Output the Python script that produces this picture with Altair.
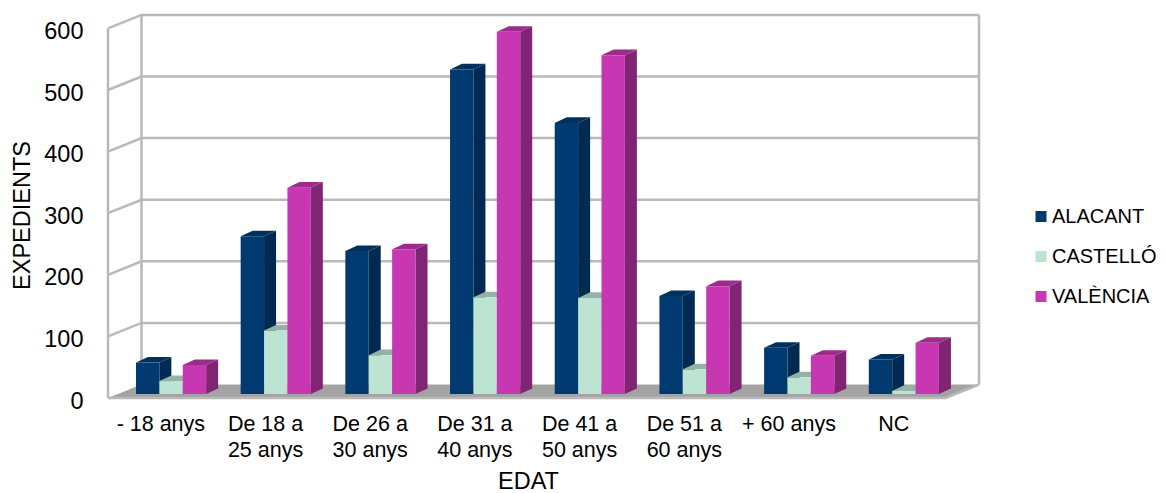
import json
import altair as alt
import pandas as pd

categories = ["- 18 anys", "De 18 a\n25 anys", "De 26 a\n30 anys", "De 31 a\n40 anys",
              "De 41 a\n50 anys", "De 51 a\n60 anys", "+ 60 anys", "NC"]
series = ["ALACANT", "CASTELLÓ", "VALÈNCIA"]
alacant = [51, 256, 232, 527, 440, 159, 75, 56]
castello = [21, 103, 63, 157, 156, 40, 27, 5]
valencia = [47, 335, 235, 588, 550, 175, 62, 83]
y_ticks = [0, 100, 200, 300, 400, 500, 600]
front_colors = ["#003a70", "#bde3d2", "#c837b2"]
side_colors = ["#002a52", "#8aa899", "#802474"]
top_colors = ["#00305e", "#93b3a6", "#9c2b8c"]

N = len(categories)
WALL_DX, WALL_DY = 0.32, 21.9     # depth of the 3D box, in x bands and y units
BAR_DX, BAR_DY = 0.1146, 9.1      # depth of a bar
BAR_W = 0.2234
BAR_START = 0.2673
BASE = 6.5
XMAX = N + WALL_DX
YMAX = 622.6

xs = alt.Scale(domain=[0, XMAX], nice=False, zero=False)
ys = alt.Scale(domain=[0, YMAX], nice=False, zero=False)
X = alt.X("x:Q", scale=xs)
Y = alt.Y("y:Q", scale=ys)


def para(x0, x1, v, dx, dy, key):
    return [
        dict(x=x0, y=v, y0=v, k=key),
        dict(x=x0 + dx, y=v + dy, y0=v, k=key),
        dict(x=x1, y=v + dy, y0=v, k=key),
        dict(x=x1 + dx, y=v + dy, y0=v + dy, k=key),
    ]


# floor
floor = alt.Chart(pd.DataFrame(para(0, N, 0, WALL_DX, WALL_DY, "f"))).mark_area(
    color="#a3a3a3", interpolate="linear"
).encode(
    x=alt.X("x:Q", scale=xs, axis=alt.Axis(
        values=[i + 0.5 for i in range(N)],
        labelExpr="split(" + json.dumps([c.replace("\n", "|") for c in categories], ensure_ascii=False)
                  + "[floor(datum.value)], '|')",
        title="EDAT", titleFontSize=23.5, titleFont="Liberation Sans", titleFontWeight="normal",
        titleColor="#000", titleX=420, titleY=83, titleBaseline="middle",
        labelFontSize=21.5, labelFont="Liberation Sans", labelColor="#000", labelPadding=15,
        labelLineHeight=26, labelAngle=0, labelAlign="center", labelBaseline="top",
        labelOverlap=False, labelFlush=False, domain=False, ticks=False, grid=False,
    )),
    y=alt.Y("y:Q", scale=ys, axis=alt.Axis(
        values=y_ticks, format="d",
        title="EXPEDIENTS", titleFontSize=23.5, titleFont="Liberation Sans", titleFontWeight="normal",
        titleColor="#000", titleX=-86, titleY=200.5, titleBaseline="middle",
        labelFontSize=23.5, labelFont="Liberation Sans", labelColor="#000", labelPadding=25,
        labelOffset=3, domain=False, ticks=False, grid=False,
    )),
    y2="y0:Q",
    detail="k:N",
)

# wall lines
lines = []
for t in y_ticks[1:]:
    key = f"g{t}"
    lines += [dict(x=0, y=t, k=key, i=0),
              dict(x=WALL_DX, y=t + WALL_DY, k=key, i=1),
              dict(x=XMAX, y=t + WALL_DY, k=key, i=2)]
top = y_ticks[-1]
lines += [dict(x=0, y=0, k="a", i=0), dict(x=0, y=top, k="a", i=1),
          dict(x=WALL_DX, y=WALL_DY, k="b", i=0), dict(x=WALL_DX, y=top + WALL_DY, k="b", i=1),
          dict(x=XMAX, y=WALL_DY, k="c", i=0), dict(x=XMAX, y=top + WALL_DY, k="c", i=1),
          dict(x=0, y=0, k="d", i=0), dict(x=N, y=0, k="d", i=1), dict(x=XMAX, y=WALL_DY, k="d", i=2)]
walls = alt.Chart(pd.DataFrame(lines)).mark_line(color="#b9b9b9", strokeWidth=2.5, interpolate="linear").encode(
    x=X, y=Y, detail="k:N", order="i:Q"
)

values = [alacant, castello, valencia]
side_layers, top_layers, front_rows = [], [], []
for s, (name, vals) in enumerate(zip(series, values)):
    side_rows, top_rows = [], []
    for c, v in enumerate(vals):
        x0 = c + BAR_START + s * BAR_W
        x1 = x0 + BAR_W
        key = f"{s}-{c}"
        side_rows += [dict(x=x1, y=BASE + v, y0=BASE, k=key),
                      dict(x=x1 + BAR_DX, y=BASE + v + BAR_DY, y0=BASE + BAR_DY, k=key)]
        top_rows += para(x0, x1, BASE + v, BAR_DX, BAR_DY, key)
        front_rows.append(dict(x=x0, x1=x1, y=BASE + v, y0=BASE, serie=name))
    side_layers.append(alt.Chart(pd.DataFrame(side_rows)).mark_area(color=side_colors[s], interpolate="linear").encode(
        x=X, y=Y, y2="y0:Q", detail="k:N"))
    top_layers.append(alt.Chart(pd.DataFrame(top_rows)).mark_area(color=top_colors[s], interpolate="linear").encode(
        x=X, y=Y, y2="y0:Q", detail="k:N"))

fronts = alt.Chart(pd.DataFrame(front_rows)).mark_bar().encode(
    x=X, x2="x1:Q", y=Y, y2="y0:Q",
    color=alt.Color("serie:N", scale=alt.Scale(domain=series, range=front_colors), legend=alt.Legend(
        title=None, orient="none", legendX=923, legendY=192, symbolType="square", symbolSize=121,
        symbolStrokeWidth=0, labelFontSize=20, labelFont="Liberation Sans", labelColor="#000",
        labelLimit=200, rowPadding=20, labelOffset=1, padding=0, offset=0,
    )),
)

chart = alt.layer(floor, walls, *side_layers, *top_layers, fronts).properties(
    width=871, height=383.5,
    autosize=alt.AutoSizeParams(type="none"),
    padding={"left": 100, "top": 6.5, "right": 179, "bottom": 95},
).configure_view(stroke=None).configure_axis(grid=False)

chart.save("out.html", embed_options={"renderer": "svg", "actions": False})
